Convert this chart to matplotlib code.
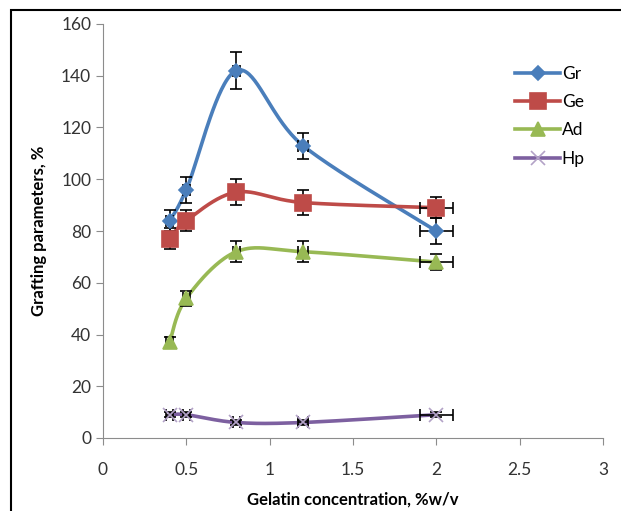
import numpy as np
import matplotlib.pyplot as plt
from matplotlib.patches import Rectangle
from matplotlib.lines import Line2D

plt.rcParams['font.family'] = ['Lato', 'DejaVu Sans']

# gelatin concentration (%w/v)
conc = [0.4, 0.5, 0.8, 1.2, 2.0]

gr = [84, 96, 142, 113, 80]
ge = [77, 84, 95, 91, 89]
ad = [37, 54, 72, 72, 68]
hp = [9, 9, 6, 6, 9]

gr_err = [4, 5, 7, 5, 5]
ge_err = [4, 4, 5, 5, 4]
ad_err = [2, 3, 4, 4, 3]
hp_err = [1, 1, 1, 1, 1]
x_err = [0.02, 0.02, 0.02, 0.03, 0.1]

series = [
    ('Gr', gr, gr_err, '#4A7EBB', 'D', 7, '#4A7EBB'),
    ('Ge', ge, ge_err, '#BE4B48', 's', 11, '#BE4B48'),
    ('Ad', ad, ad_err, '#98B954', '^', 10, '#98B954'),
    ('Hp', hp, hp_err, '#7D60A0', 'x', 10, '#B3A2C7'),
]

sx, sy = 500 / 3, 414 / 160  # pixels per unit, so the smoothing looks like Excel's


def smooth(x, y, n=40):
    # Excel style bezier smoothing
    p = np.column_stack([np.array(x) * sx, np.array(y) * sy])
    out = []
    for i in range(len(p) - 1):
        p0 = p[i - 1] if i > 0 else p[i]
        p3 = p[i + 2] if i + 2 < len(p) else p[i + 1]
        c1 = p[i] + (p[i + 1] - p0) / 6
        c2 = p[i + 1] - (p3 - p[i]) / 6
        t = np.linspace(0, 1, n)[:, None]
        seg = ((1 - t) ** 3 * p[i] + 3 * (1 - t) ** 2 * t * c1
               + 3 * (1 - t) * t ** 2 * c2 + t ** 3 * p[i + 1])
        out.append(seg)
    out = np.vstack(out)
    return out[:, 0] / sx, out[:, 1] / sy


fig = plt.figure(figsize=(6.21, 5.11), dpi=100)
ax = fig.add_axes([103 / 621, 1 - 438 / 511, 500 / 621, 414 / 511])

handles = []
for name, y, yerr, col, mk, ms, mcol in series:
    xs, ys = smooth(conc, y)
    ax.plot(xs, ys, color=col, lw=2.6, zorder=2)
    ax.errorbar(conc, y, yerr=yerr, xerr=x_err, fmt='none', ecolor='black',
                elinewidth=1.2, capsize=4, capthick=1.2, zorder=3)
    ax.plot(conc, y, ls='none', marker=mk, ms=ms, color=mcol,
            mec=mcol, mew=1.2, zorder=4)
    handles.append(Line2D([], [], color=col, lw=2.6, marker=mk, ms=ms,
                          mfc=mcol, mec=mcol, mew=1.2))

ax.set_xlim(0, 3)
ax.set_ylim(0, 160)
ax.set_xticks(np.arange(0, 3.01, 0.5))
ax.set_xticklabels(['0', '0.5', '1', '1.5', '2', '2.5', '3'])
ax.set_yticks(range(0, 161, 20))

for s in ['top', 'right']:
    ax.spines[s].set_visible(False)
for s in ['left', 'bottom']:
    ax.spines[s].set_color('#8C8C8C')
ax.tick_params(colors='#8C8C8C', labelcolor='#333333', labelsize=12.5, length=5)
ax.tick_params(axis='x', pad=12)

ax.set_ylabel('Grafting parameters, %', fontsize=12, fontweight='bold', labelpad=10)
ax.set_xlabel('Gelatin concentration, %w/v', fontsize=12, fontweight='bold', labelpad=10)

ax.legend(handles, [s[0] for s in series], loc='upper left',
          bbox_to_anchor=(0.81, 0.915), frameon=False, fontsize=12.5,
          handlelength=2.6, handletextpad=0.1, labelspacing=0.7,
          borderaxespad=0)

fig.patches.append(Rectangle((11 / 621, -0.1), 1.2, 1 - 10 / 511 + 0.1,
                             transform=fig.transFigure, fill=False,
                             edgecolor='black', lw=1.5, zorder=10))

fig.savefig('out.png', dpi=100)
